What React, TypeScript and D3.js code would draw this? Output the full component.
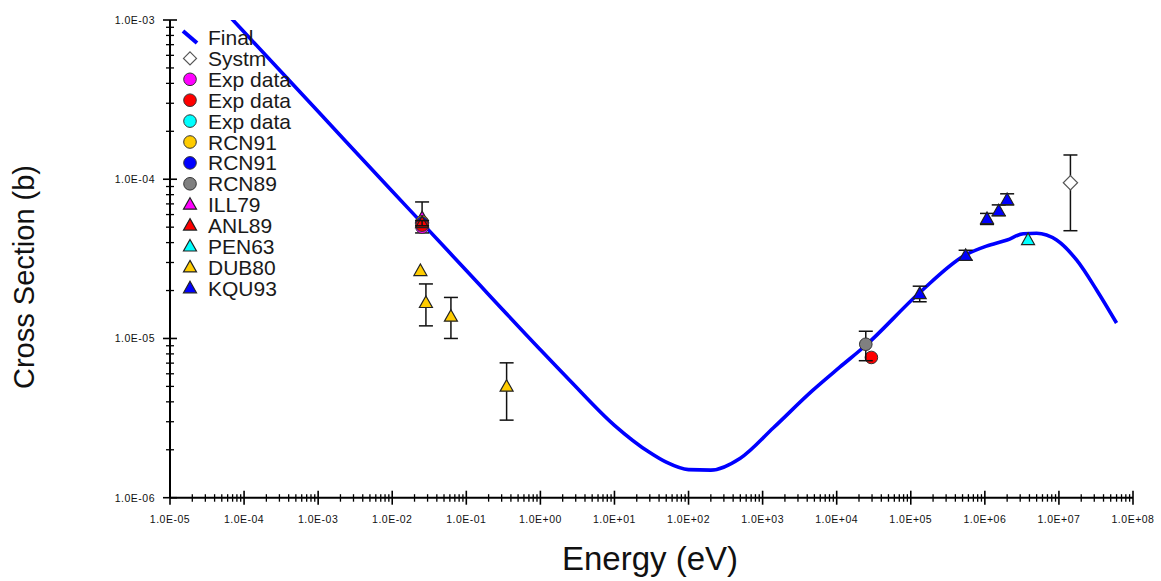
import React from "react";
import * as d3 from "d3";

// Evaluated curve ("Final")
const curveE = [1e-5, 1e-4, 1e-3, 1e-2, 0.0253, 0.1, 1, 2.5, 10, 30, 50, 100, 200, 500, 1400, 4700, 1.1e4, 2.5e4, 1.3e5, 5.5e5, 1.05e6, 2e6, 3.3e6, 5e6, 9.3e6, 1.74e7, 3.24e7, 6.0e7];
const curveS = [2.66e-3, 8.4e-4, 2.66e-4, 8.4e-5, 5.3e-5, 2.67e-5, 8.5e-6, 5.45e-6, 2.85e-6, 1.92e-6, 1.67e-6, 1.5e-6, 1.49e-6, 1.77e-6, 2.75e-6, 4.7e-6, 6.6e-6, 9.1e-6, 1.93e-5, 3.35e-5, 3.8e-5, 4.15e-5, 4.55e-5, 4.58e-5, 4.15e-5, 3.1e-5, 2.01e-5, 1.25e-5];

// Legend entries
const legendNames = ["Final", "Systm", "Exp data", "Exp data", "Exp data", "RCN91", "RCN91", "RCN89", "ILL79", "ANL89", "PEN63", "DUB80", "KQU93"];
const legendShapes = ["line", "diamond", "circle", "circle", "circle", "circle", "circle", "circle", "triangle", "triangle", "triangle", "triangle", "triangle"];
const legendColors = ["#0000ff", "none", "#ff00ff", "#ff0000", "#00ffff", "#ffcc00", "#0000ff", "#808080", "#ff00ff", "#ff0000", "#00ffff", "#ffcc00", "#0000ff"];

// Data series (E, sigma, low, high)
const systmE = [1.43e7];
const systmS = [9.5e-5];
const systmLo = [4.75e-5];
const systmHi = [1.42e-4];

const expMagE = [0.0253];
const expMagS = [5.0e-5];
const expRedE = [0.0253, 2.94e4];
const expRedS = [5.15e-5, 7.6e-6];
const rcn91YE = [0.0253];
const rcn91YS = [5.4e-5];
const rcn91BE = [0.0253];
const rcn91BS = [5.3e-5];

const rcn89E = [2.47e4];
const rcn89S = [9.2e-6];
const rcn89Lo = [7.25e-6];
const rcn89Hi = [1.11e-5];

const ill79E = [0.0253];
const ill79S = [5.7e-5];
const ill79Lo = [4.6e-5];
const ill79Hi = [7.2e-5];

const anl89E = [0.0253];
const anl89S = [5.3e-5];
const anl89Lo = [5.1e-5];
const anl89Hi = [5.5e-5];

const pen63E = [3.83e6];
const pen63S = [4.15e-5];

const dub80E = [0.024, 0.0285, 0.062, 0.35];
const dub80S = [2.65e-5, 1.67e-5, 1.37e-5, 4.98e-6];
const dub80Lo = [null, 1.2e-5, 1.0e-5, 3.07e-6];
const dub80Hi = [null, 2.2e-5, 1.81e-5, 7.03e-6];

const kqu93E = [1.32e5, 5.5e5, 1.07e6, 1.54e6, 2.0e6];
const kqu93S = [1.9e-5, 3.3e-5, 5.62e-5, 6.3e-5, 7.4e-5];
const kqu93Lo = [1.7e-5, 3.1e-5, 5.2e-5, 5.9e-5, 6.9e-5];
const kqu93Hi = [2.13e-5, 3.58e-5, 6.1e-5, 6.9e-5, 8.1e-5];

const xDecades = [-5, -4, -3, -2, -1, 0, 1, 2, 3, 4, 5, 6, 7, 8];
const yDecades = [-6, -5, -4, -3];
const xTickLabels = ["1.0E-05", "1.0E-04", "1.0E-03", "1.0E-02", "1.0E-01", "1.0E+00", "1.0E+01", "1.0E+02", "1.0E+03", "1.0E+04", "1.0E+05", "1.0E+06", "1.0E+07", "1.0E+08"];
const yTickLabels = ["1.0E-06", "1.0E-05", "1.0E-04", "1.0E-03"];

const L = 170, R = 1133, T = 20, B = 497.7;
const FONT = "'Liberation Sans', Arial, sans-serif";

function Marker({ shape, cx, cy, fill, size = 1 }: { shape: string; cx: number; cy: number; fill: string; size?: number }) {
  if (shape === "circle") {
    return <circle cx={cx} cy={cy} r={6.3 * size} fill={fill} stroke="#333" strokeWidth={1} />;
  }
  if (shape === "triangle") {
    const w = 6.5 * size, h1 = 7 * size, h2 = 4.5 * size;
    return <path d={`M${cx},${cy - h1}L${cx + w},${cy + h2}L${cx - w},${cy + h2}Z`} fill={fill} stroke="#222" strokeWidth={1.2} />;
  }
  if (shape === "diamond") {
    const s = 6.5 * size;
    return <path d={`M${cx},${cy - s}L${cx + s},${cy}L${cx},${cy + s}L${cx - s},${cy}Z`} fill="#fff" stroke="#555" strokeWidth={1.2} />;
  }
  return null;
}

export default function App() {
  const x = d3.scaleLog().domain([1e-5, 1e8]).range([L, R]);
  const y = d3.scaleLog().domain([1e-6, 1e-3]).range([B, T]);

  const line = d3.line<number>().x((d, i) => x(curveE[i])).y((d, i) => y(curveS[i])).curve(d3.curveMonotoneX);
  const curvePath = line(curveS) || "";

  const errBars = (E: number[], lo: (number | null)[], hi: (number | null)[]) =>
    E.map((e, i) => {
      const l = lo[i], h = hi[i];
      if (l == null || h == null) return null;
      const cx = x(e);
      return (
        <g key={i} stroke="#111" strokeWidth={1.5}>
          <line x1={cx} x2={cx} y1={y(l)} y2={y(h)} />
          <line x1={cx - 7} x2={cx + 7} y1={y(l)} y2={y(l)} />
          <line x1={cx - 7} x2={cx + 7} y1={y(h)} y2={y(h)} />
        </g>
      );
    });

  const pts = (E: number[], S: number[], shape: string, fill: string, size = 1) =>
    E.map((e, i) => <Marker key={i} shape={shape} cx={x(e)} cy={y(S[i])} fill={fill} size={size} />);

  const xMinor: number[] = [];
  xDecades.slice(0, -1).forEach((d) => { for (let k = 2; k <= 9; k++) xMinor.push(k * Math.pow(10, d)); });
  const yMinor: number[] = [];
  yDecades.slice(0, -1).forEach((d) => { for (let k = 2; k <= 9; k++) yMinor.push(k * Math.pow(10, d)); });

  return (
    <svg width={1161} height={581} style={{ position: "absolute", left: 0, top: 0, background: "#fff" }}>
      <defs>
        <clipPath id="plot">
          <rect x={L} y={T} width={R - L} height={B - T} />
        </clipPath>
      </defs>
      {/* curve */}
      <path d={curvePath} fill="none" stroke="#0000ff" strokeWidth={3.6} clipPath="url(#plot)" strokeLinejoin="round" />

      {/* data */}
      {errBars(systmE, systmLo, systmHi)}
      {pts(systmE, systmS, "diamond", "none", 1.1)}
      {errBars(ill79E, ill79Lo, ill79Hi)}
      {pts(ill79E, ill79S, "triangle", "#ff00ff")}
      {pts(expMagE, expMagS, "circle", "#ff00ff")}
      {pts(rcn91YE, rcn91YS, "circle", "#ffcc00")}
      {pts(rcn91BE, rcn91BS, "circle", "#0000ff")}
      {pts(expRedE, expRedS, "circle", "#ff0000")}
      {pts(anl89E, anl89S, "triangle", "#ff0000")}
      {errBars(anl89E, anl89Lo, anl89Hi)}
      {errBars(rcn89E, rcn89Lo, rcn89Hi)}
      {pts(rcn89E, rcn89S, "circle", "#808080")}
      {pts(pen63E, pen63S, "triangle", "#00ffff")}
      {errBars(dub80E, dub80Lo, dub80Hi)}
      {pts(dub80E, dub80S, "triangle", "#ffcc00")}
      {errBars(kqu93E, kqu93Lo, kqu93Hi)}
      {pts(kqu93E, kqu93S, "triangle", "#0000ff")}

      {/* axes */}
      <g stroke="#000">
        <line x1={L} x2={L} y1={T} y2={B} strokeWidth={2} />
        <line x1={L} x2={R} y1={B} y2={B} strokeWidth={2} />
        {xDecades.map((d) => (
          <line key={"xm" + d} x1={x(Math.pow(10, d))} x2={x(Math.pow(10, d))} y1={B - 7} y2={B + 7} strokeWidth={1.6} />
        ))}
        {xMinor.map((v, i) => (
          <line key={"xn" + i} x1={x(v)} x2={x(v)} y1={B - 3.5} y2={B + 4} strokeWidth={1.3} />
        ))}
        {yDecades.map((d) => (
          <line key={"ym" + d} x1={L - 7} x2={L + 7} y1={y(Math.pow(10, d))} y2={y(Math.pow(10, d))} strokeWidth={1.6} />
        ))}
        {yMinor.map((v, i) => (
          <line key={"yn" + i} x1={L - 4} x2={L + 4} y1={y(v)} y2={y(v)} strokeWidth={1.3} />
        ))}
      </g>
      <g fontFamily={FONT} fontSize={10.5} fill="#111" letterSpacing={0.5}>
        {xDecades.map((d, i) => (
          <text key={"xl" + d} x={x(Math.pow(10, d))} y={523} textAnchor="middle">{xTickLabels[i]}</text>
        ))}
        {yDecades.map((d, i) => (
          <text key={"yl" + d} x={155} y={y(Math.pow(10, d)) + 4} textAnchor="end">{yTickLabels[i]}</text>
        ))}
      </g>

      {/* axis titles */}
      <text x={650} y={570} textAnchor="middle" fontFamily={FONT} fontSize={33} fill="#111">Energy (eV)</text>
      <text transform="translate(34,277) rotate(-90)" textAnchor="middle" fontFamily={FONT} fontSize={29} fill="#111">Cross Section (b)</text>

      {/* legend */}
      <g fontFamily={FONT} fontSize={21} fill="#1a1a1a">
        {legendNames.map((name, i) => {
          const ly = 37.5 + i * 20.9;
          const shape = legendShapes[i];
          return (
            <g key={"lg" + i}>
              {shape === "line" ? (
                <line x1={183} y1={ly - 6.5} x2={197} y2={ly + 5.5} stroke="#0000ff" strokeWidth={4} />
              ) : (
                <Marker shape={shape} cx={190} cy={ly} fill={legendColors[i]} />
              )}
              <text x={208} y={ly + 7.5}>{name}</text>
            </g>
          );
        })}
      </g>
    </svg>
  );
}
